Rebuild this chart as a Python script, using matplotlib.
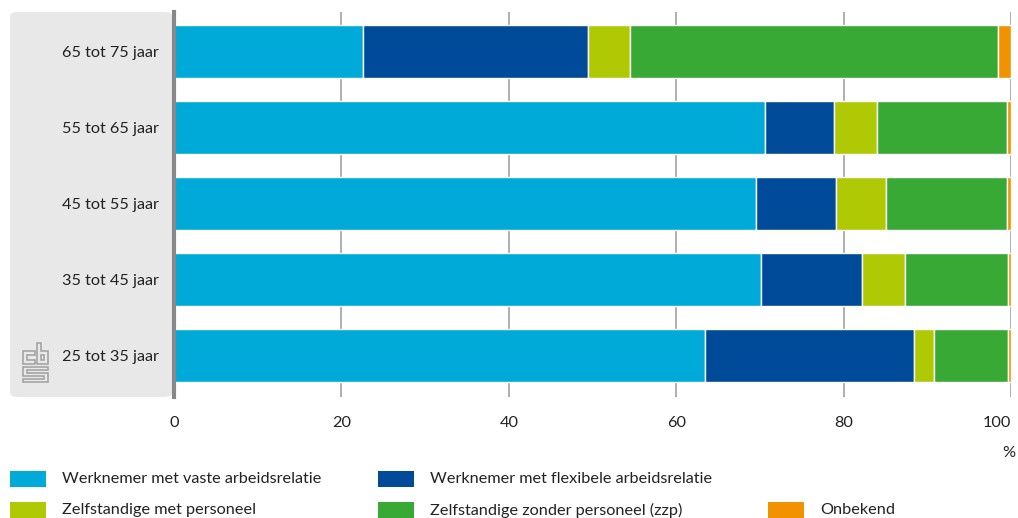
import numpy as np
import matplotlib.pyplot as plt
from matplotlib.patches import FancyBboxPatch, Rectangle, Polygon

plt.rcParams['font.family'] = ['Lato', 'DejaVu Sans']

leeftijd = ['25 tot 35 jaar', '35 tot 45 jaar', '45 tot 55 jaar', '55 tot 65 jaar', '65 tot 75 jaar']
series = ['Werknemer met vaste arbeidsrelatie', 'Werknemer met flexibele arbeidsrelatie',
          'Zelfstandige met personeel', 'Zelfstandige zonder personeel (zzp)', 'Onbekend']
vast = [63.4, 70.1, 69.5, 70.6, 22.6]
flex = [25.0, 12.1, 9.6, 8.3, 26.9]
zmp = [2.4, 5.1, 6.0, 5.1, 5.0]
zzp = [8.9, 12.3, 14.4, 15.5, 43.9]
onbekend = [0.3, 0.4, 0.5, 0.5, 1.6]
colors = ['#00aad8', '#004b99', '#afca05', '#39a935', '#f39200']

fig = plt.figure(figsize=(10.18, 5.18), dpi=100)
W, H = 1018, 518

# grey label panel
panel = FancyBboxPatch((10 / W, 1 - 397 / H), 162 / W, 385 / H,
                       boxstyle='round,pad=0,rounding_size=0.008',
                       transform=fig.transFigure, facecolor='#e8e8e8', edgecolor='none', zorder=0)
fig.patches.append(panel)

ax = fig.add_axes([174 / W, 1 - 397 / H, 837 / W, 385 / H])
ax.set_facecolor('none')
ax.set_zorder(2)

y = np.arange(len(leeftijd))
left = np.zeros(len(leeftijd))
for vals, c in zip([vast, flex, zmp, zzp, onbekend], colors):
    ax.barh(y, vals, left=left, height=0.70, color=c, edgecolor='white', linewidth=1, zorder=3)
    left += np.array(vals)

ax.set_xlim(0, 100)
ax.set_ylim(-0.546, 4.52)
ax.set_xticks([0, 20, 40, 60, 80, 100])
ax.set_yticks(y)
ax.set_yticklabels(leeftijd)
ax.tick_params(axis='both', length=0, labelsize=11.7, colors='#222222')
ax.tick_params(axis='x', pad=14)
ax.tick_params(axis='y', pad=11)
ax.get_xticklabels()[-1].set_ha('right')
ax.xaxis.grid(True, color='#a8a8a8', linewidth=1.3, zorder=0)
ax.set_axisbelow(True)
for s in ['top', 'right', 'bottom']:
    ax.spines[s].set_visible(False)
ax.spines['left'].set_color('#888888')
ax.spines['left'].set_linewidth(3)
ax.spines['left'].set_zorder(5)

fig.text(1009 / W, 1 - 453 / H, '%', ha='center', va='center', fontsize=11.7, color='#222222')

# cbs logo (rough outline)
logo = [
    [(35, 351), (23, 351), (23, 364), (35, 364), (35, 360), (27, 360), (27, 355), (35, 355)],
    [(37, 343), (41, 343), (41, 351), (48, 351), (48, 364), (37, 364)],
    [(41, 355), (44, 355), (44, 360), (41, 360)],
    [(23, 367), (48, 367), (48, 370), (27, 370), (27, 373), (48, 373), (48, 382), (23, 382),
     (23, 379), (44, 379), (44, 376), (23, 376)],
]
for pts in logo:
    fig.patches.append(Polygon([(px / W, 1 - py / H) for px, py in pts], closed=True,
                               transform=fig.transFigure, facecolor='none',
                               edgecolor='#a0a0a0', linewidth=1.1, zorder=1))

# legend
leg_pos = [(10, 479), (378, 479), (10, 510), (378, 510), (768, 510)]
for (lx, ly), name, c in zip(leg_pos, series, colors):
    fig.patches.append(Rectangle((lx / W, 1 - (ly + 8) / H), 36 / W, 16 / H,
                                 transform=fig.transFigure, facecolor=c, edgecolor='none'))
    fig.text((lx + 52) / W, 1 - ly / H, name, ha='left', va='center', fontsize=11.7, color='#222222')

fig.savefig('out.png', dpi=100)
